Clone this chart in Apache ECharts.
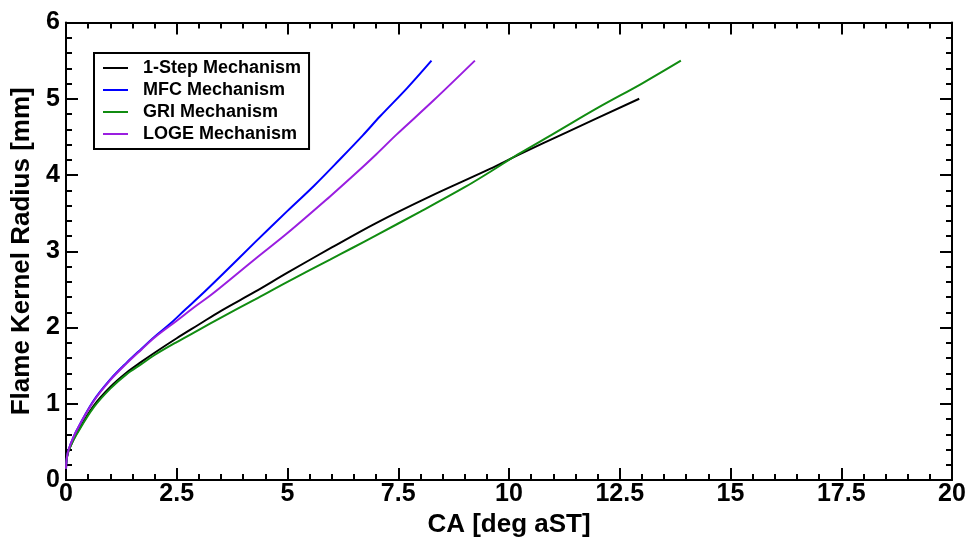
<!DOCTYPE html>
<html>
<head>
<meta charset="utf-8">
<script src="https://cdn.jsdelivr.net/npm/echarts@6/dist/echarts.min.js"></script>
<style>
html,body{margin:0;padding:0;background:#fff;}
#chart{width:971px;height:543px;}
</style>
</head>
<body>
<div id="chart"></div>
<script>
// ---- data ----
var seriesNames = ['1-Step Mechanism', 'MFC Mechanism', 'GRI Mechanism', 'LOGE Mechanism'];

var oneStepX = [0, 0.01, 0.04, 0.09, 0.24, 0.62, 1.0, 1.37, 1.7, 2.0, 2.5, 3.0, 3.5, 4.27, 5.0, 6.0, 7.0, 8.22, 9.57, 10.2, 11.3, 12.94];
var oneStepY = [0.15, 0.25, 0.35, 0.43, 0.61, 0.97, 1.22, 1.41, 1.55, 1.67, 1.86, 2.04, 2.22, 2.47, 2.72, 3.05, 3.37, 3.72, 4.08, 4.26, 4.56, 5.0];

var mfcX = [0, 0.01, 0.04, 0.09, 0.24, 0.62, 1.0, 1.37, 1.7, 2.0, 2.35, 2.7, 3.0, 3.5, 4.27, 5.0, 5.6, 6.19, 6.7, 7.09, 7.7, 8.25];
var mfcY = [0.15, 0.25, 0.36, 0.45, 0.65, 1.04, 1.32, 1.54, 1.72, 1.88, 2.05, 2.24, 2.40, 2.68, 3.12, 3.53, 3.86, 4.21, 4.52, 4.77, 5.14, 5.5];

var griX = [0, 0.01, 0.04, 0.09, 0.24, 0.62, 1.0, 1.37, 1.7, 2.0, 2.5, 3.0, 3.5, 4.27, 5.0, 5.96, 6.45, 7.0, 8.0, 9.0, 9.57, 10.2, 11.0, 12.0, 13.0, 13.88];
var griY = [0.15, 0.25, 0.35, 0.43, 0.60, 0.95, 1.20, 1.39, 1.52, 1.64, 1.81, 1.97, 2.13, 2.37, 2.6, 2.89, 3.04, 3.21, 3.52, 3.84, 4.04, 4.27, 4.54, 4.88, 5.2, 5.5];

var logeX = [0, 0.01, 0.04, 0.09, 0.24, 0.62, 1.0, 1.37, 1.7, 2.0, 2.5, 2.9, 3.3, 4.27, 5.0, 5.96, 6.5, 7.0, 7.46, 8.3, 9.23];
var logeY = [0.15, 0.25, 0.36, 0.45, 0.65, 1.03, 1.31, 1.53, 1.71, 1.87, 2.09, 2.27, 2.44, 2.90, 3.24, 3.72, 4.00, 4.27, 4.53, 4.98, 5.5];

var xTicks = {min: 0, max: 20, interval: 2.5};
var yTicks = {min: 0, max: 6, interval: 1};
var seriesColors = ['#000000', '#0000ff', '#118c11', '#9a1ee0'];

function pairs(xs, ys) {
  var out = [];
  for (var i = 0; i < xs.length; i++) out.push([xs[i], ys[i]]);
  return out;
}
var seriesData = [pairs(oneStepX, oneStepY), pairs(mfcX, mfcY), pairs(griX, griY), pairs(logeX, logeY)];

var FONT = '"Liberation Sans", Arial, Helvetica, sans-serif';

function axisBase() {
  return {
    axisLine: {show: true, onZero: false, lineStyle: {color: '#000', width: 2}},
    axisTick: {show: true, inside: true, length: 12, lineStyle: {color: '#000', width: 2}},
    minorTick: {show: true, splitNumber: 5, length: 6, lineStyle: {color: '#000', width: 2}},
    splitLine: {show: false},
    minorSplitLine: {show: false}
  };
}

function mk(base, extra) {
  var o = axisBase();
  for (var k in base) o[k] = base[k];
  for (var k2 in extra) o[k2] = extra[k2];
  return o;
}

var chart = echarts.init(document.getElementById('chart'), null, {renderer: 'canvas'});
chart.setOption({
  animation: false,
  backgroundColor: '#fff',
  grid: {left: 66, right: 19, top: 22.5, bottom: 61, containLabel: false},
  legend: {
    orient: 'vertical',
    left: 94, top: 53,
    data: seriesNames,
    icon: 'rect',
    itemWidth: 25, itemHeight: 2, itemGap: 4,
    padding: [6, 8, 6, 9],
    borderColor: '#000', borderWidth: 2,
    backgroundColor: '#fff',
    textStyle: {fontFamily: FONT, fontWeight: 'bold', fontSize: 18, color: '#000', padding: [0, 0, 0, 10]}
  },
  xAxis: [
    mk(xTicks, {
      type: 'value', position: 'bottom',
      name: 'CA [deg aST]', nameLocation: 'middle', nameGap: 18,
      nameTextStyle: {fontFamily: FONT, fontWeight: 'bold', fontSize: 26, color: '#000'},
      axisLabel: {fontFamily: FONT, fontWeight: 'bold', fontSize: 25, color: '#000', margin: 2}
    }),
    mk(xTicks, {type: 'value', position: 'top', axisLabel: {show: false}})
  ],
  yAxis: [
    mk(yTicks, {
      type: 'value', position: 'left',
      name: 'Flame Kernel Radius [mm]', nameLocation: 'middle', nameGap: 23,
      nameTextStyle: {fontFamily: FONT, fontWeight: 'bold', fontSize: 26, color: '#000'},
      axisLabel: {fontFamily: FONT, fontWeight: 'bold', fontSize: 25, color: '#000', margin: 6}
    }),
    mk(yTicks, {type: 'value', position: 'right', axisLabel: {show: false}})
  ],
  series: seriesNames.map(function (n, i) {
    return {
      name: n, type: 'line', xAxisIndex: 0, yAxisIndex: 0,
      data: seriesData[i],
      symbol: 'none', showSymbol: false,
      smooth: 0.35,
      color: seriesColors[i],
      lineStyle: {color: seriesColors[i], width: 2}
    };
  })
});
</script>
</body>
</html>
